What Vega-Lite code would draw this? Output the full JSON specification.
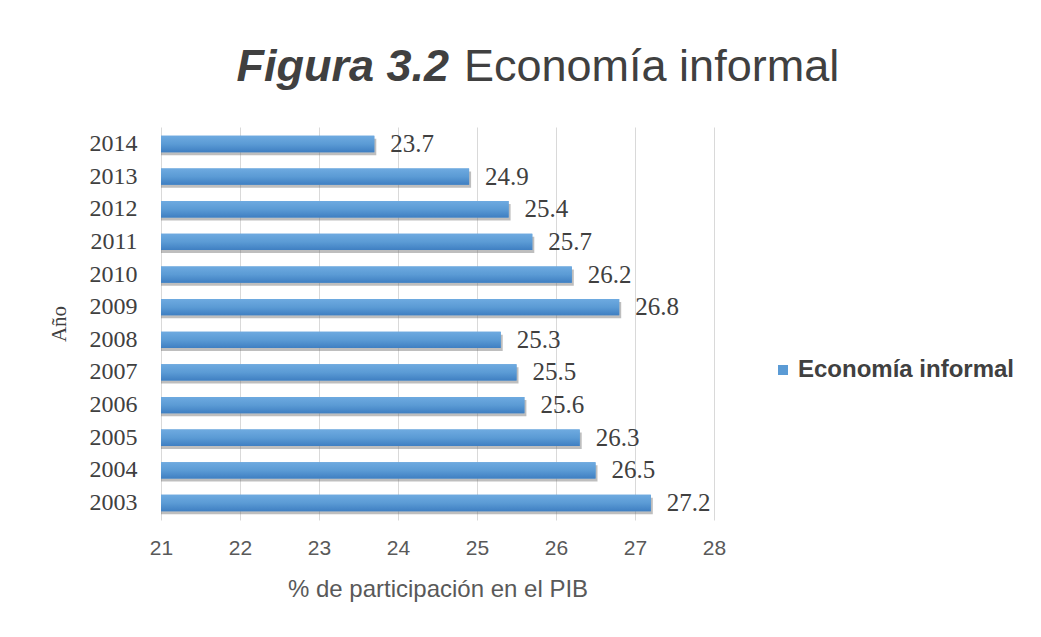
{
  "$schema": "https://vega.github.io/schema/vega-lite/v6.json",
  "width": 553,
  "height": 393,
  "autosize": {"type": "none"},
  "padding": {"left": 161, "top": 127, "right": 327, "bottom": 117},
  "background": "white",
  "config": {"view": {"stroke": null}},
  "title": {
    "text": "Figura 3.2",
    "subtitle": "Economía informal",
    "anchor": "start",
    "frame": "group",
    "align": "left",
    "dx": 303,
    "offset": 37,
    "font": "Liberation Sans",
    "fontSize": 45,
    "fontWeight": "bold",
    "fontStyle": "italic",
    "color": "#404040",
    "subtitleFont": "Liberation Sans",
    "subtitleFontSize": 45,
    "subtitleFontWeight": "normal",
    "subtitleFontStyle": "normal",
    "subtitleColor": "#404040",
    "subtitlePadding": -45,
    "encoding": {"align": {"value": "right"}, "dx": {"value": 288}}
  },
  "data": {
    "values": [
      {"anio": "2014", "valor": 23.7, "serie": "Economía informal"},
      {"anio": "2013", "valor": 24.9, "serie": "Economía informal"},
      {"anio": "2012", "valor": 25.4, "serie": "Economía informal"},
      {"anio": "2011", "valor": 25.7, "serie": "Economía informal"},
      {"anio": "2010", "valor": 26.2, "serie": "Economía informal"},
      {"anio": "2009", "valor": 26.8, "serie": "Economía informal"},
      {"anio": "2008", "valor": 25.3, "serie": "Economía informal"},
      {"anio": "2007", "valor": 25.5, "serie": "Economía informal"},
      {"anio": "2006", "valor": 25.6, "serie": "Economía informal"},
      {"anio": "2005", "valor": 26.3, "serie": "Economía informal"},
      {"anio": "2004", "valor": 26.5, "serie": "Economía informal"},
      {"anio": "2003", "valor": 27.2, "serie": "Economía informal"}
    ]
  },
  "encoding": {
    "y": {
      "field": "anio",
      "type": "ordinal",
      "sort": "descending",
      "scale": {"paddingInner": 0.5, "paddingOuter": 0.27},
      "axis": {
        "title": "Año",
        "titleFont": "Liberation Serif",
        "titleFontSize": 21,
        "titleFontWeight": "normal",
        "titleColor": "#404040",
        "titlePadding": 20,
        "labelFont": "Liberation Serif",
        "labelFontSize": 24,
        "labelColor": "#404040",
        "labelPadding": 24,
        "domain": false,
        "ticks": false,
        "grid": false
      }
    },
    "x": {
      "field": "valor",
      "type": "quantitative",
      "scale": {"domain": [21, 28], "zero": false, "nice": false},
      "axis": {
        "title": "% de participación en el PIB",
        "titleFont": "Liberation Sans",
        "titleFontSize": 24,
        "titleFontWeight": "normal",
        "titleColor": "#595959",
        "titlePadding": 19,
        "labelFont": "Liberation Sans",
        "labelFontSize": 21,
        "labelColor": "#595959",
        "labelPadding": 17,
        "labelFlush": false,
        "values": [21, 22, 23, 24, 25, 26, 27, 28],
        "domain": false,
        "ticks": false,
        "grid": true,
        "gridColor": "#d9d9d9",
        "gridWidth": 1
      }
    }
  },
  "layer": [
    {
      "mark": {"type": "bar", "color": "#6f6f6f", "opacity": 0.45, "yOffset": 3, "xOffset": 2, "clip": true}
    },
    {
      "mark": {"type": "bar", "clip": true},
      "encoding": {
        "color": {
          "field": "serie",
          "type": "nominal",
          "scale": {"range": ["#5B9BD5"]},
          "legend": {
            "title": null,
            "orient": "none",
            "legendX": 610,
            "legendY": 231,
            "padding": 0,
            "symbolType": "square",
            "symbolSize": 100,
            "symbolStrokeWidth": 0,
            "labelFont": "Liberation Sans",
            "labelFontSize": 24,
            "labelFontWeight": "bold",
            "labelColor": "#404040",
            "labelOffset": 3,
            "labelLimit": 0
          }
        }
      }
    },
    {
      "mark": {
        "type": "bar",
        "clip": true,
        "color": {
          "gradient": "linear",
          "x1": 0, "y1": 0, "x2": 0, "y2": 1,
          "stops": [
            {"offset": 0, "color": "#6eaae0"},
            {"offset": 0.5, "color": "#5b9bd5"},
            {"offset": 1, "color": "#3f7fc2"}
          ]
        }
      }
    },
    {
      "mark": {
        "type": "text",
        "align": "left",
        "dx": 16,
        "font": "Liberation Serif",
        "fontSize": 25,
        "color": "#404040"
      },
      "encoding": {
        "text": {"field": "valor", "type": "quantitative", "format": ".1f"}
      }
    }
  ]
}
